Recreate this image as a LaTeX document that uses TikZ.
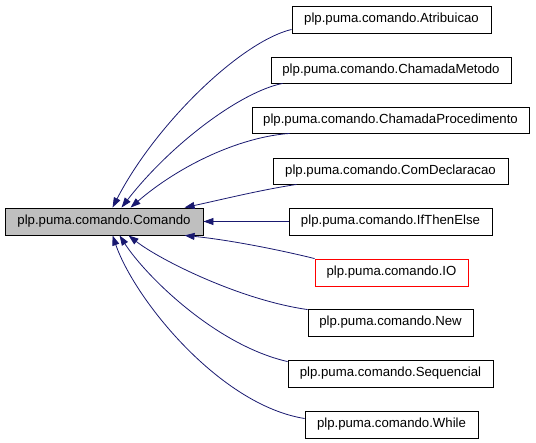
\documentclass[tikz,border=0pt]{standalone}
\usepackage{fontspec}
\setmainfont{Liberation Sans}
\usetikzlibrary{arrows.meta,calc}
\definecolor{edgeblue}{HTML}{191970}
\definecolor{basegray}{HTML}{BFBFBF}
\tikzset{
  cls/.style={draw=black, line width=0.9pt, inner sep=0pt, anchor=center,
    font=\fontsize{13.2}{15}\selectfont},
  basecls/.style={cls, fill=basegray},
  redcls/.style={cls, draw=red},
  inh/.style={draw=edgeblue, line width=0.8pt, -{Triangle[length=10pt,width=7pt]}}
}
\begin{document}
\begin{tikzpicture}[x=1pt,y=-1pt]
\useasboundingbox (0,0) rectangle (536,443);
\node[basecls, minimum width=198pt, minimum height=27pt] (cmd) at (104,221.5) {plp.puma.comando.Comando};
\node[cls, minimum width=199pt, minimum height=27pt] (atr) at (391.5,19.5) {plp.puma.comando.Atribuicao};
\node[cls, minimum width=240pt, minimum height=26pt] (cme) at (391,70) {plp.puma.comando.ChamadaMetodo};
\node[cls, minimum width=277pt, minimum height=26pt] (cpr) at (390.5,120) {plp.puma.comando.ChamadaProcedimento};
\node[cls, minimum width=235pt, minimum height=26pt] (cde) at (390.5,171) {plp.puma.comando.ComDeclaracao};
\node[cls, minimum width=203pt, minimum height=27pt] (ite) at (390.5,221.5) {plp.puma.comando.IfThenElse};
\node[redcls, minimum width=153pt, minimum height=27pt] (io) at (391.5,272.5) {plp.puma.comando.IO};
\node[cls, minimum width=165pt, minimum height=27pt] (new) at (390.5,322.5) {plp.puma.comando.New};
\node[cls, minimum width=205pt, minimum height=27pt] (seq) at (390.5,373.5) {plp.puma.comando.Sequencial};
\node[cls, minimum width=173pt, minimum height=27pt] (whi) at (391.5,424.5) {plp.puma.comando.While};

\draw[inh] ($(atr.south west)+(0,-4)$) .. controls (240,42) and (155,125) .. ($(cmd.north west)+(108,0)$);
\draw[inh] ($(cme.south west)+(12,0)$) .. controls (240,92) and (170,145) .. ($(cmd.north west)+(117,0)$);
\draw[inh] ($(cpr.south west)+(38,0)$) .. controls (240,137) and (180,165) .. ($(cmd.north west)+(126,0)$);
\draw[inh] ($(cde.south west)+(24,0)$) .. controls (260,190) and (220,200) .. ($(cmd.north west)+(180,0)$);
\draw[inh] (ite.west) -- (cmd.east);
\draw[inh] (io.north west) .. controls (280,250) and (230,240) .. ($(cmd.south west)+(180,0)$);
\draw[inh] ($(new.north west)+(0,1)$) .. controls (240,300) and (160,260) .. ($(cmd.south west)+(124,0)$);
\draw[inh] ($(seq.north west)+(0,2)$) .. controls (215,345) and (145,275) .. ($(cmd.south west)+(115,0)$);
\draw[inh] ($(whi.west)+(0,-6)$) .. controls (220,405) and (135,300) .. ($(cmd.south west)+(108,0)$);
\end{tikzpicture}
\end{document}
